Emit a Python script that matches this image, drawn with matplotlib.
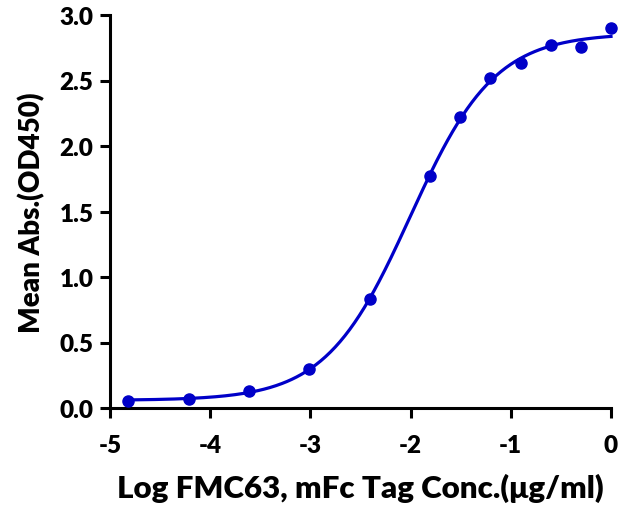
import numpy as np
import matplotlib
matplotlib.use("Agg")
import matplotlib.pyplot as plt

# Data (log10 concentration, mean OD450)
log_conc = [-4.816, -4.214, -3.612, -3.010, -2.408, -1.806, -1.505, -1.204, -0.903, -0.602, -0.301, 0.0]
od450 = [0.055, 0.072, 0.128, 0.30, 0.83, 1.77, 2.22, 2.52, 2.63, 2.77, 2.755, 2.90]

x_ticks = [-5, -4, -3, -2, -1, 0]
y_ticks = [0.0, 0.5, 1.0, 1.5, 2.0, 2.5, 3.0]
x_label = "Log FMC63, mFc Tag Conc.(\u03bcg/ml)"
y_label = "Mean Abs.(OD450)"

color = "#0000C8"

# 4PL fit: grid over logEC50 and hill, linear least squares for bottom/top
X = np.array(log_conc)
Y = np.array(od450)
best = None
for ec in np.linspace(-3.0, -1.0, 401):
    for h in np.linspace(0.5, 3.0, 251):
        s = 1.0 / (1.0 + 10 ** ((ec - X) * h))
        A = np.column_stack([1 - s, s])
        coef, *_ = np.linalg.lstsq(A, Y, rcond=None)
        r = np.sum((A @ coef - Y) ** 2)
        if best is None or r < best[0]:
            best = (r, ec, h, coef)
_, ec, h, (bot, top) = best
xf = np.linspace(X.min(), X.max(), 400)
sf = 1.0 / (1.0 + 10 ** ((ec - xf) * h))
yf = bot + (top - bot) * sf

W = 'heavy'
plt.rcParams['font.family'] = ['Lato', 'DejaVu Sans']
plt.rcParams['font.weight'] = W
plt.rcParams['axes.labelweight'] = W
fig = plt.figure(figsize=(6.18, 5.10), dpi=100)
ax = fig.add_axes([110 / 618, 101 / 510, 501 / 618, 393 / 510])

ax.plot(xf, yf, color=color, lw=2.3, zorder=2, clip_on=False)
ax.plot(X, Y, 'o', color=color, ms=8, zorder=3, clip_on=False)

ax.set_xlim(-5, 0)
ax.set_ylim(0, 3.0)
ax.set_xticks(x_ticks)
ax.set_xticklabels([str(t) for t in x_ticks])
ax.set_yticks(y_ticks)
ax.set_yticklabels([f"{t:.1f}" for t in y_ticks])

for s in ['top', 'right']:
    ax.spines[s].set_visible(False)
for s in ['left', 'bottom']:
    ax.spines[s].set_linewidth(2.2)
ax.tick_params(axis='both', width=2.2, length=7, labelsize=17.5)
ax.tick_params(axis='x', pad=12)
ax.tick_params(axis='y', pad=5)
for lab in ax.get_xticklabels() + ax.get_yticklabels():
    lab.set_fontweight(W)

ax.set_xlabel(x_label, fontsize=22.5, fontweight=W, labelpad=12)
ax.set_ylabel(y_label, fontsize=20, fontweight=W, labelpad=10)

fig.savefig("out.png", dpi=100)
